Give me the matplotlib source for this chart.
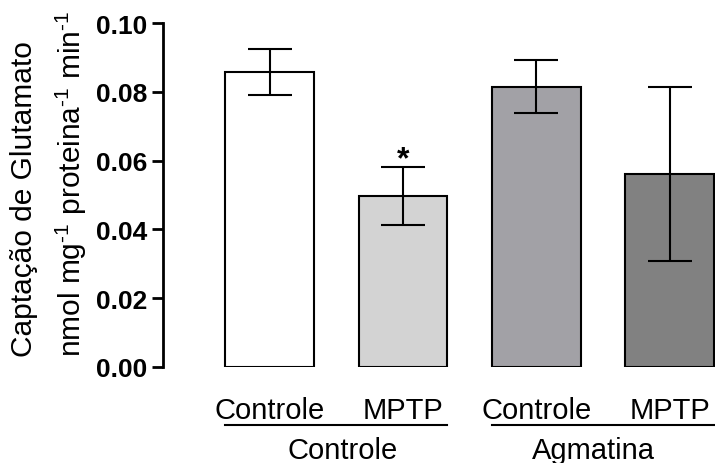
import numpy as np
import matplotlib.pyplot as plt
from matplotlib.transforms import blended_transform_factory

plt.rcParams['font.family'] = ['Liberation Sans', 'DejaVu Sans']
plt.rcParams['mathtext.fontset'] = 'custom'
plt.rcParams['mathtext.rm'] = 'Liberation Sans'
plt.rcParams['mathtext.it'] = 'Liberation Sans:italic'
plt.rcParams['mathtext.bf'] = 'Liberation Sans:bold'

bar_labels = ["Controle", "MPTP", "Controle", "MPTP"]
group_labels = ["Controle", "Agmatina"]
means = [0.0858, 0.0498, 0.0815, 0.0561]
errors = [0.0066, 0.0084, 0.0077, 0.0253]
colors = ["#ffffff", "#d3d3d3", "#a2a1a6", "#818181"]
significant = [False, True, False, False]


def plot_uptake():
    fig, ax = plt.subplots(figsize=(7.15, 4.64), dpi=100)
    fig.subplots_adjust(left=0.228, right=1.0, bottom=0.207, top=0.948)

    x = np.arange(len(means))
    width = 0.667
    ax.bar(x, means, width, color=colors, edgecolor="black", linewidth=1.5, zorder=2)
    ax.errorbar(x, means, yerr=errors, fmt="none", ecolor="black",
                elinewidth=1.5, capsize=16, capthick=1.5, zorder=3)

    for xi, m, e, sig in zip(x, means, errors, significant):
        if sig:
            ax.text(xi, m + e - 0.0022, "*", ha="center", va="bottom",
                    fontsize=23, fontweight="bold")

    ax.set_xlim(-0.8, 3.34)
    ax.set_ylim(0, 0.10)
    ax.set_yticks(np.arange(0, 0.101, 0.02))
    ax.set_yticklabels(["%.2f" % v for v in np.arange(0, 0.101, 0.02)],
                       fontsize=19, fontweight="bold")
    ax.tick_params(axis="y", length=8, width=2, pad=3)

    ax.set_xticks(x)
    ax.set_xticklabels(bar_labels, fontsize=21)
    ax.tick_params(axis="x", length=0, pad=21)

    for side in ["top", "right", "bottom"]:
        ax.spines[side].set_visible(False)
    ax.spines["left"].set_linewidth(2)

    ax.set_ylabel("Captação de Glutamato\n"
                  r"nmol mg$^{\text{-1}}$ proteina$^{\text{-1}}$ min$^{\text{-1}}$",
                  fontsize=21.5, labelpad=5, linespacing=1.6,
                  multialignment="left", y=0.535)

    trans = blended_transform_factory(ax.transData, ax.transAxes)
    offsets = [0.05, -0.07]
    for g, name in enumerate(group_labels):
        left = x[2 * g] - width / 2
        right = x[2 * g + 1] + width / 2
        ax.plot([left, right], [-0.169, -0.169], color="black", lw=1.5,
                transform=trans, clip_on=False)
        ax.text((left + right) / 2 + offsets[g], -0.2, name, ha="center",
                va="top", fontsize=21, transform=trans)

    fig.savefig("out.png", dpi=100)


if __name__ == "__main__":
    plot_uptake()
